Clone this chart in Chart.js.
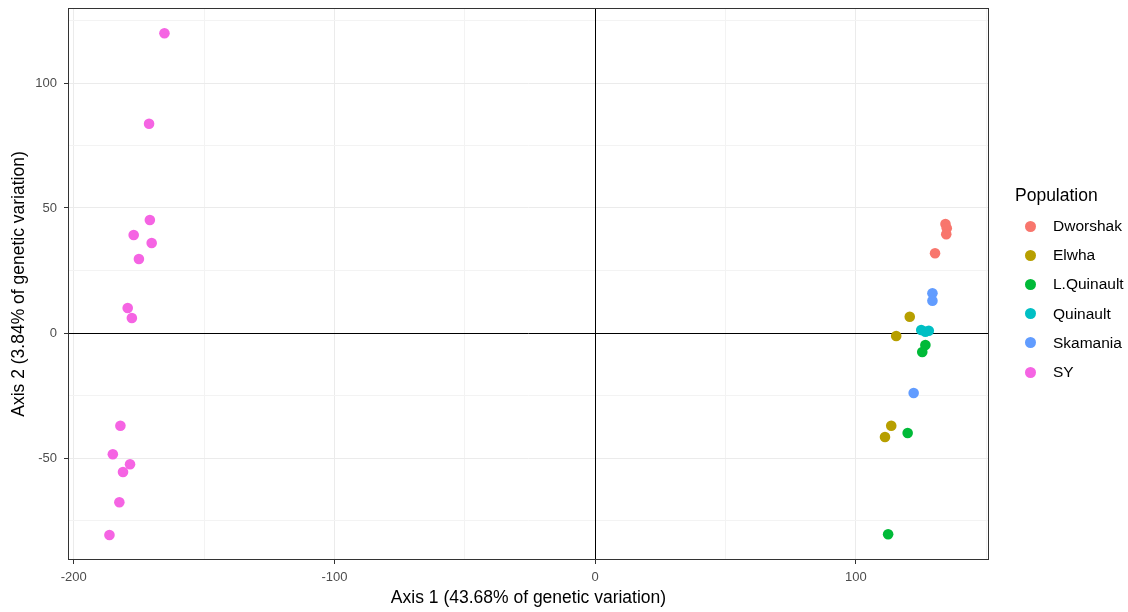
<!DOCTYPE html>
<html><head><meta charset="utf-8">
<script src="https://cdn.jsdelivr.net/npm/chart.js@4/dist/chart.umd.min.js"></script>
<style>
html,body{margin:0;padding:0;background:#fff;}
#wrap{position:relative;width:1128px;height:612px;}
canvas{position:absolute;left:0;top:0;}
.lg{position:absolute;font-family:"Liberation Sans",Arial,sans-serif;white-space:nowrap;color:#000;}
.dot{position:absolute;width:11px;height:11px;border-radius:50%;}
</style></head><body>
<div id="wrap"><canvas id="c" width="1128" height="612"></canvas><div id="legend"></div></div>
<script>
// ---- data ----
const populations = ['Dworshak','Elwha','L.Quinault','Quinault','Skamania','SY'];
const popColors = ['#F8766D','#B79F00','#00BA38','#00BFC4','#619CFF','#F564E3'];

const dworshakX = [134.4, 134.9, 134.7, 130.4];
const dworshakY = [43.6, 41.9, 39.5, 31.9];
const elwhaX = [120.7, 115.5, 113.6, 111.2];
const elwhaY = [6.5, -1.2, -37.1, -41.6];
const lQuinaultX = [126.7, 125.5, 119.9, 112.4];
const lQuinaultY = [-4.8, -7.6, -40.0, -80.5];
const quinaultX = [125.1, 126.7, 128.0];
const quinaultY = [1.2, 0.5, 0.9];
const skamaniaX = [129.4, 129.4, 122.2];
const skamaniaY = [15.9, 12.9, -24.0];
const syX = [-165.2, -171.1, -170.8, -177.0, -170.1, -175.0, -179.3, -177.7, -182.1, -185.0, -178.4, -181.1, -182.5, -186.3];
const syY = [119.9, 83.7, 45.2, 39.2, 36.0, 29.6, 10.0, 6.0, -37.1, -48.5, -52.5, -55.6, -67.7, -80.8];

const xMajorTicks = [-200, -100, 0, 100];
const xMinorTicks = [-150, -50, 50, 150];
const yMajorTicks = [-50, 0, 50, 100];
const yMinorTicks = [-75, -25, 25, 75, 125];
const xLimits = [-202.2, 151.1];
const yLimits = [-90.8, 130.0];
const xTitle = 'Axis 1 (43.68% of genetic variation)';
const yTitle = 'Axis 2 (3.84% of genetic variation)';
const legendTitle = 'Population';

// ---- build ----
const seriesX = [dworshakX, elwhaX, lQuinaultX, quinaultX, skamaniaX, syX];
const seriesY = [dworshakY, elwhaY, lQuinaultY, quinaultY, skamaniaY, syY];
const datasets = populations.map((p, i) => ({
  label: p,
  data: seriesX[i].map((x, j) => ({x: x, y: seriesY[i][j]})),
  backgroundColor: popColors[i],
  borderWidth: 0,
  pointRadius: 5.3,
  pointHoverRadius: 5.3
}));

const FONT = '"Liberation Sans", Arial, sans-serif';
function isMajor(list, v) { return list.indexOf(v) >= 0; }
function gridColor(major) {
  return (ctx) => isMajor(major, ctx.tick && ctx.tick.value) ? '#EBEBEB' : '#F3F3F3';
}
function tickColor(major) {
  return (ctx) => isMajor(major, ctx.tick && ctx.tick.value) ? '#333333' : 'rgba(0,0,0,0)';
}

const panelPlugin = {
  id: 'panel',
  beforeDatasetsDraw(chart) {
    const a = chart.chartArea, c = chart.ctx;
    const x0 = Math.round(chart.scales.x.getPixelForValue(0)) + 0.5;
    const y0 = Math.round(chart.scales.y.getPixelForValue(0)) + 0.5;
    c.save();
    c.strokeStyle = '#000000';
    c.lineWidth = 1;
    c.beginPath();
    c.moveTo(a.left, y0); c.lineTo(a.right, y0);
    c.moveTo(x0, a.top); c.lineTo(x0, a.bottom);
    c.stroke();
    c.restore();
  },
  afterDatasetsDraw(chart) {
    const a = chart.chartArea, c = chart.ctx;
    c.save();
    c.strokeStyle = '#333333';
    c.lineWidth = 1;
    c.strokeRect(Math.round(a.left) + 0.5, Math.round(a.top) + 0.5, Math.round(a.right - a.left) - 1, Math.round(a.bottom - a.top) - 1);
    c.restore();
  }
};

new Chart(document.getElementById('c'), {
  type: 'scatter',
  data: {datasets: datasets},
  plugins: [panelPlugin],
  options: {
    responsive: false,
    animation: false,
    devicePixelRatio: 1,
    layout: {padding: {left: 0, top: 8, right: 139, bottom: 0}},
    plugins: {legend: {display: false}, tooltip: {enabled: false}},
    scales: {
      x: {
        type: 'linear', min: xLimits[0], max: xLimits[1],
        afterBuildTicks: (s) => { s.ticks = xMajorTicks.concat(xMinorTicks).sort((a,b)=>a-b).map(v => ({value: v})); },
        afterFit: (s) => { s.height = 52; s.paddingLeft = 0; s.paddingRight = 0; },
        ticks: {
          autoSkip: false, maxRotation: 0, padding: 6,
          color: '#4D4D4D', font: {family: FONT, size: 13},
          callback: (v) => isMajor(xMajorTicks, v) ? String(v) : ''
        },
        grid: {color: gridColor(xMajorTicks), lineWidth: 1, tickColor: tickColor(xMajorTicks), tickLength: 4, drawTicks: true},
        border: {display: false},
        title: {display: true, text: xTitle, color: '#000', font: {family: FONT, size: 17.5}, padding: {top: 2, bottom: 3}}
      },
      y: {
        type: 'linear', min: yLimits[0], max: yLimits[1],
        afterBuildTicks: (s) => { s.ticks = yMajorTicks.concat(yMinorTicks).sort((a,b)=>a-b).map(v => ({value: v})); },
        afterFit: (s) => { s.width = 68; s.paddingTop = 0; s.paddingBottom = 0; },
        ticks: {
          autoSkip: false, padding: 7,
          color: '#4D4D4D', font: {family: FONT, size: 13},
          callback: (v) => isMajor(yMajorTicks, v) ? String(v) : ''
        },
        grid: {color: gridColor(yMajorTicks), lineWidth: 1, tickColor: tickColor(yMajorTicks), tickLength: 4, drawTicks: true},
        border: {display: false},
        title: {display: true, text: yTitle, color: '#000', font: {family: FONT, size: 17.5}, padding: {top: 9, bottom: 2}}
      }
    }
  }
});

// ---- legend (HTML) ----
const lg = document.getElementById('legend');
const t = document.createElement('div');
t.className = 'lg'; t.textContent = legendTitle;
t.style.left = '1015px'; t.style.top = '184px'; t.style.fontSize = '17.5px'; t.style.lineHeight = '22px';
lg.appendChild(t);
populations.forEach((p, i) => {
  const cy = 226 + i * 29.2;
  const d = document.createElement('div');
  d.className = 'dot'; d.style.background = popColors[i];
  d.style.left = '1024.5px'; d.style.top = (cy - 5.5) + 'px';
  lg.appendChild(d);
  const s = document.createElement('div');
  s.className = 'lg'; s.textContent = p;
  s.style.left = '1053px'; s.style.top = (cy - 9) + 'px'; s.style.fontSize = '15.5px'; s.style.lineHeight = '18px';
  lg.appendChild(s);
});
</script>
</body></html>
